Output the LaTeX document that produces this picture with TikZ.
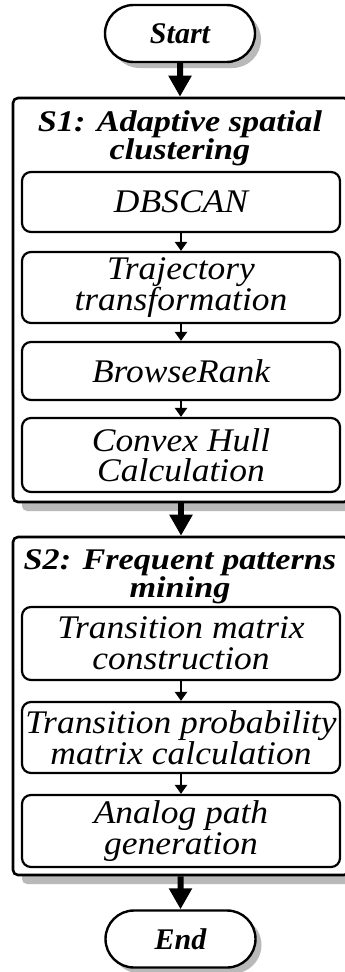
\documentclass[tikz,border=0pt]{standalone}
\usepackage{fontspec}
\setmainfont{Liberation Serif}
\newfontfamily\headfont[FakeStretch=1.14]{Liberation Serif}
\newfontfamily\taskfont[FakeStretch=1.075]{Liberation Serif}
\usetikzlibrary{arrows.meta,positioning,shapes.misc,shadows}

\begin{document}
\begin{tikzpicture}[x=1pt,y=-1pt,
  every node/.style={inner sep=0pt},
  terminal/.style={rounded rectangle,draw,line width=2.4pt,fill=white,
    minimum width=150pt,minimum height=57pt,
    font=\fontsize{30}{30}\selectfont\bfseries\itshape,
    drop shadow={shadow xshift=6pt,shadow yshift=-6pt,fill=gray!55,opacity=1}},
  stage/.style={draw,line width=2.6pt,rounded corners=5pt,fill=white,
    minimum width=336pt,
    drop shadow={shadow xshift=9pt,shadow yshift=-9pt,fill=gray!55,opacity=1}},
  stagetitle/.style={align=center,font=\headfont\fontsize{30}{26}\selectfont\bfseries\itshape},
  task/.style={draw,line width=2.2pt,rounded corners=9pt,fill=white,
    minimum width=318pt,align=center,font=\taskfont\fontsize{33}{30.5}\selectfont\itshape},
  bigarrow/.style={line width=6pt,-{Triangle[width=22pt,length=21pt]}},
  smallarrow/.style={line width=2.5pt,-{Triangle[width=12pt,length=9pt]}}]
  \useasboundingbox (0,0) rectangle (345,972);
  \clip (0,0) rectangle (345,972);

  % terminals
  \node[terminal] (start) at (180,33.5) {Start};
  \node[terminal] (end) at (180.5,939) {End};

  % stage S1
  \node[stage,minimum height=404pt] (s1) at (181,300) {};
  \node[stagetitle] (s1title) at (180,138) {S1: Adaptive spatial\\clustering};
  \node[task,minimum height=60pt] (dbscan) at (181,202) {DBSCAN};
  \node[task,minimum height=71pt] (traj) at (181,287.5) {Trajectory\\transformation};
  \node[task,minimum height=58pt] (browse) at (181,371) {BrowseRank};
  \node[task,minimum height=74pt] (hull) at (181,455) {Convex Hull\\Calculation};

  % stage S2
  \node[stage,minimum height=338pt] (s2) at (181,706) {};
  \node[stagetitle] (s2title) at (180,577) {S2: Frequent patterns\\mining};
  \node[task,minimum height=73pt] (tmc) at (181,643.5) {Transition matrix\\construction};
  \node[task,minimum height=71pt] (tpm) at (181,737.5) {Transition probability\\matrix calculation};
  \node[task,minimum height=72pt] (apg) at (181,831) {Analog path\\generation};

  % connectors
  \draw[bigarrow] (start) -- (start |- s1.north);
  \draw[bigarrow] (s1) -- (s2);
  \draw[bigarrow] (end |- s2.south) -- (end);
  \draw[smallarrow] (dbscan) -- (traj);
  \draw[smallarrow] (traj) -- (browse);
  \draw[smallarrow] (browse) -- (hull);
  \draw[smallarrow] (tmc) -- (tpm);
  \draw[smallarrow] (tpm) -- (apg);
\end{tikzpicture}
\end{document}
